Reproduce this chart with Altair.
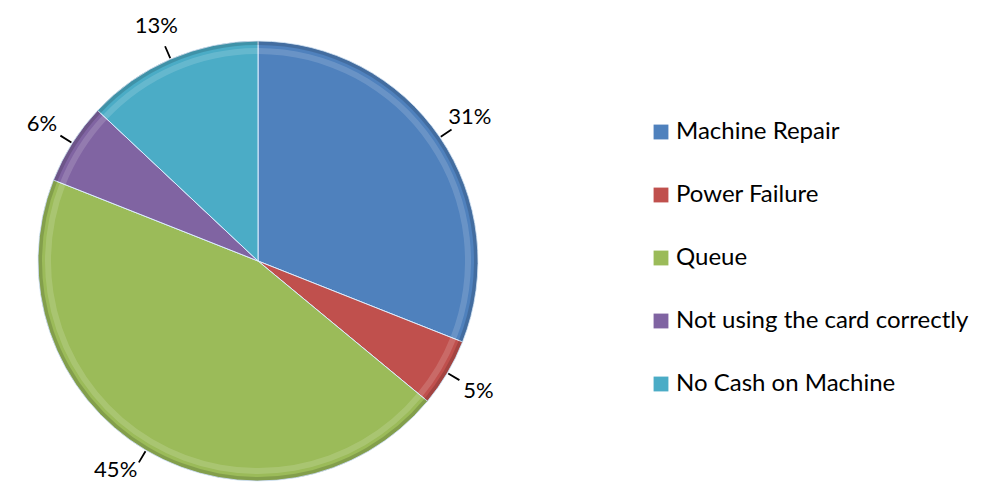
import altair as alt
import pandas as pd

categories = ["Machine Repair", "Power Failure", "Queue",
              "Not using the card correctly", "No Cash on Machine"]
values = [31, 5, 45, 6, 13]
labels = ["31%", "5%", "45%", "6%", "13%"]
colors = ["#4F81BD", "#C0504D", "#9BBB59", "#8064A2", "#4BACC6"]

df = pd.DataFrame({"category": categories, "value": values,
                   "label": labels, "idx": list(range(len(categories)))})

CX, CY, R = 250, 253, 220
LR = 256  # label radius

base = alt.Chart(df).encode(
    theta=alt.Theta("value:Q", stack=True),
    order=alt.Order("idx:Q"),
)

pie = base.mark_arc(outerRadius=R, stroke="#DDEEFF", strokeWidth=1).encode(
    x=alt.value(CX), y=alt.value(CY),
    color=alt.Color("category:N", sort=categories,
                    scale=alt.Scale(domain=categories, range=colors),
                    legend=alt.Legend(title=None, orient="none", legendX=641, legendY=112,
                                      symbolType="square", symbolSize=220,
                                      symbolStrokeWidth=0, labelFont="Lato",
                                      labelFontSize=24, labelColor="black",
                                      labelLimit=0, rowPadding=39, labelOffset=3)),
)

rim_dark = base.mark_arc(outerRadius=R, innerRadius=R - 4, color="black", opacity=0.15).encode(
    x=alt.value(CX), y=alt.value(CY))
rim_light = base.mark_arc(outerRadius=R - 7, innerRadius=R - 13, color="white", opacity=0.15).encode(
    x=alt.value(CX), y=alt.value(CY))

angles = alt.Chart(df).transform_joinaggregate(
    total="sum(value)"
).transform_window(
    cum="sum(value)", sort=[alt.SortField("idx")]
).transform_calculate(
    mid="(datum.cum - datum.value/2) / datum.total * 2 * PI"
)

leaders = angles.mark_arc(radius=R + 1, radius2=R + 14, stroke="black", strokeWidth=1.8,
                          fillOpacity=0).encode(
    x=alt.value(CX), y=alt.value(CY),
    theta=alt.Theta("mid:Q", scale=None),
    theta2=alt.Theta2("mid"),
)

text = angles.transform_calculate(
    tx=f"{CX} + {LR} * sin(datum.mid) - 12 * (datum.mid > PI * 1.1 && datum.mid < PI * 1.4)",
    ty=f"min({CY} - {LR} * cos(datum.mid), 462)",
).mark_text(fontSize=22, font="Lato", color="black").encode(
    x=alt.X("tx:Q", scale=None), y=alt.Y("ty:Q", scale=None), text="label:N",
)

chart = alt.layer(pie, rim_dark, rim_light, leaders, text).properties(
    width=968, height=476, padding=0, autosize="none"
).configure_view(stroke=None)

chart.save("out.html", embed_options={"renderer": "svg", "actions": False})
